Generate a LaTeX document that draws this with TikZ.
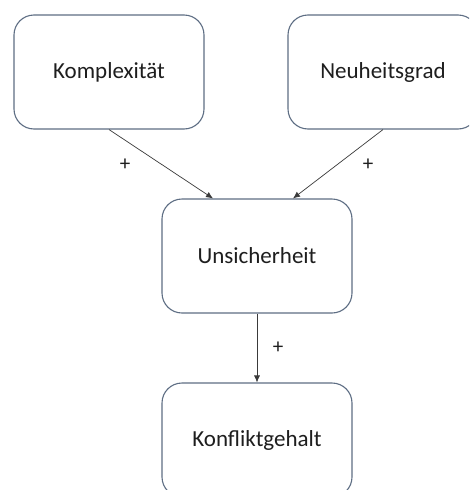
\documentclass[tikz,border=0pt]{standalone}
\usepackage{fontspec}
\setmainfont{Carlito}
\usetikzlibrary{arrows.meta}
\definecolor{boxline}{HTML}{5E6E84}
\definecolor{arrowline}{HTML}{3A3A3A}
\definecolor{labeltext}{HTML}{1E1E1E}
\begin{document}
\begin{tikzpicture}[x=1pt,y=-1pt,
  factor/.style={draw=boxline,line width=1.1pt,rounded corners=20pt,fill=white,
    minimum width=190pt,minimum height=114pt,inner sep=0pt,
    font=\fontsize{23}{26}\selectfont,text=labeltext},
  link/.style={draw=arrowline,line width=0.7pt,-{Latex[length=7pt,width=6pt]}},
  sign/.style={font=\fontsize{21}{24}\selectfont,text=labeltext}]
\useasboundingbox (0,0) rectangle (469,490);
\clip (0,0) rectangle (469,490);
\fill[white] (0,0) rectangle (469,490);

\node[factor] (komp) at (109,72) {Komplexität};
\node[factor] (neu)  at (383,72) {Neuheitsgrad};
\node[factor] (uns)  at (257,256) {Unsicherheit};
\node[factor] (konf) at (257,440) {Konfliktgehalt};

\draw[link] (komp.south) -- ([xshift=-44pt]uns.north);
\draw[link] (neu.south)  -- ([xshift=36pt]uns.north);
\draw[link] (uns.south)  -- (konf.north);

\node[sign] (p1) at (125,165) {+};
\node[sign] (p2) at (368,165) {+};
\node[sign] (p3) at (278,348) {+};
\end{tikzpicture}
\end{document}
